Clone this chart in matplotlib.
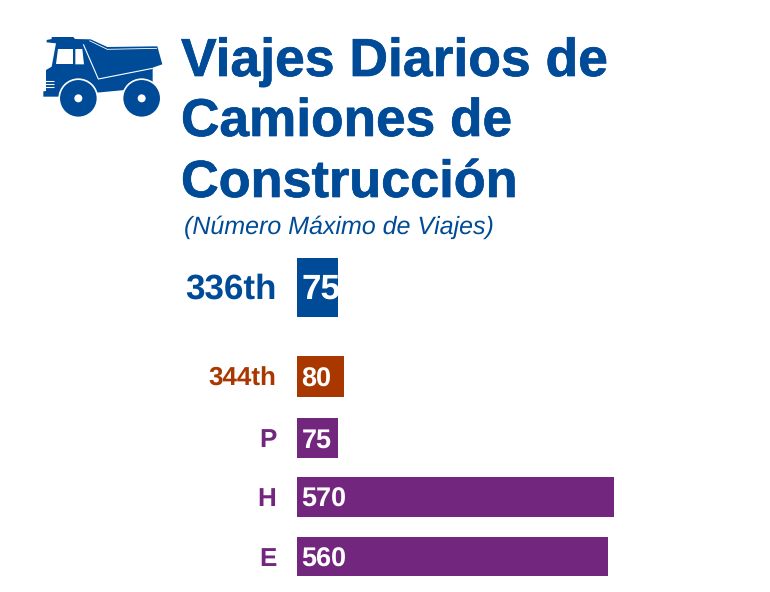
#!/usr/bin/env python3
"""Daily construction truck trips, horizontal bars with truck icon."""
import matplotlib

matplotlib.use("Agg")
import matplotlib.patheffects as pe  # noqa: E402
import matplotlib.pyplot as plt  # noqa: E402
from matplotlib.patches import Circle, Polygon  # noqa: E402

plt.rcParams["font.family"] = ["Liberation Sans", "DejaVu Sans"]
plt.rcParams["text.hinting"] = "none"
plt.rcParams["text.hinting_factor"] = 1

W, H = 770, 592
BLUE = "#004B97"
RUST = "#A83800"
PURPLE = "#72267E"

categories = ["336th", "344th", "P", "H", "E"]
values = [75, 80, 75, 570, 560]
# the 344th bar is drawn a little longer in the picture than its label says
bar_lengths = [75, 85.4, 75, 570, 560]
title_lines = ["Viajes Diarios de", "Camiones de", "Construcción"]
subtitle = "(Número Máximo de Viajes)"

colors = [BLUE, RUST, PURPLE, PURPLE, PURPLE]
bar_centers = [287.5, 376.5, 438, 497, 556.5]
bar_heights = [59, 41, 40, 40, 39.5]
cat_sizes = [25, 19, 19, 19, 19]
val_sizes = [25, 19.2, 19.2, 19.2, 19.2]
text_lifts = [1.5, 0, 0, 0, 0]
title_baselines = [76, 136, 197]
title_sizes = [38.5, 38.3, 37.6]

BAR_LEFT = 296.5
PX_PER_UNIT = 0.5565
PX_TO_PT = 0.72


def icon_pts(pts):
    return [(30 + x / 3, 25 + y / 3) for x, y in pts]


def draw_truck(ax):
    body = [(50, 45), (65, 42), (65, 36), (130, 36), (135, 42), (182, 43), (232, 66),
            (382, 64), (397, 118), (368, 128), (368, 170), (285, 195), (200, 203),
            (190, 215), (40, 215), (40, 199), (48, 198), (48, 135), (65, 125),
            (78, 55), (50, 52)]
    ax.add_patch(Polygon(icon_pts(body), closed=True, fc=BLUE, ec="none"))

    xs, ys = zip(*icon_pts([(160, 58), (205, 162), (368, 130)]))
    ax.plot(xs, ys, color="white", lw=0.8, solid_capstyle="butt")
    xs, ys = zip(*icon_pts([(178, 47), (232, 73), (381, 70)]))
    ax.plot(xs, ys, color="white", lw=0.6, solid_capstyle="butt")

    for window in ([(83, 72), (130, 72), (130, 118), (78, 118)],
                   [(136, 72), (157, 72), (162, 118), (136, 118)]):
        ax.add_patch(Polygon(icon_pts(window), closed=True, fc="white", ec="none"))

    for gy in (168, 177, 186):
        xs, ys = zip(*icon_pts([(45, gy), (72, gy)]))
        ax.plot(xs, ys, color="white", lw=0.8, solid_capstyle="butt")

    for cx in (145, 335):
        (px, py), = icon_pts([(cx, 220)])
        ax.add_patch(Circle((px, py), 20, fc="white", ec="none"))
        ax.add_patch(Circle((px, py), 18.3, fc=BLUE, ec="none"))
        ax.add_patch(Circle((px, py), 4, fc="white", ec="none"))


def main():
    fig = plt.figure(figsize=(W / 100, H / 100), dpi=100, facecolor="white")

    page = fig.add_axes([0, 0, 1, 1])
    page.set_xlim(0, W)
    page.set_ylim(H, 0)
    page.axis("off")

    draw_truck(page)

    for line, y, size in zip(title_lines, title_baselines, title_sizes):
        t = page.text(181, y, line, color=BLUE, fontsize=size, fontweight="bold",
                      ha="left", va="baseline")
        t.set_path_effects([pe.withStroke(linewidth=0.5, foreground=BLUE)])
    page.text(184, 234, subtitle, color=BLUE, fontsize=18.1, fontstyle="italic",
              ha="left", va="baseline")

    # bars use their own axes so lengths come from the values
    ax = fig.add_axes([BAR_LEFT / W, 0, (W - BAR_LEFT) / W, 1])
    ax.set_xlim(0, (W - BAR_LEFT) / PX_PER_UNIT)
    ax.set_ylim(H, 0)
    ax.axis("off")
    ax.patch.set_alpha(0)

    ax.barh(bar_centers, bar_lengths, height=bar_heights, color=colors, left=0)

    for cat, val, y, color, cs, vs, lift in zip(
        categories, values, bar_centers, colors, cat_sizes, val_sizes, text_lifts
    ):
        ax.annotate(cat, (0, y), xytext=(-20 * PX_TO_PT, lift * PX_TO_PT), textcoords="offset points",
                    ha="right", va="center_baseline", color=color,
                    fontsize=cs, fontweight="bold")
        ax.annotate(str(val), (0, y), xytext=(5 * PX_TO_PT, lift * PX_TO_PT), textcoords="offset points",
                    ha="left", va="center_baseline", color="white",
                    fontsize=vs, fontweight="bold")

    fig.savefig("out.png", dpi=100, facecolor="white")
    plt.close(fig)


if __name__ == "__main__":
    main()
